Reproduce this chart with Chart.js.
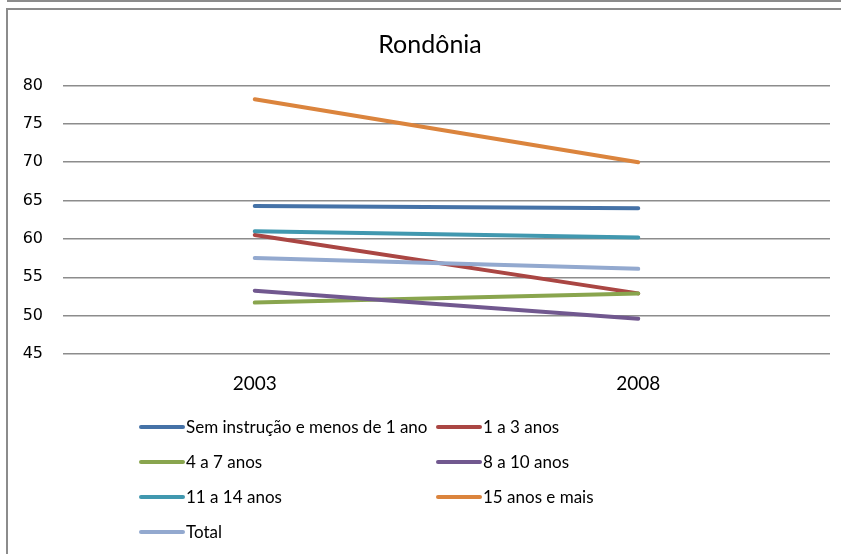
<!DOCTYPE html>
<html>
<head>
<meta charset="utf-8">
<script src="https://cdn.jsdelivr.net/npm/chart.js@4"></script>
<style>
  html, body { margin: 0; padding: 0; background: #fff; }
  #wrap { width: 841px; height: 554px; position: relative; }
  canvas { display: block; }
</style>
</head>
<body>
<div id="wrap"><canvas id="c" width="841" height="554"></canvas></div>
<script>
const categories = ["2003", "2008"];
const seriesNames = [
  "Sem instrução e menos de 1 ano",
  "1 a 3 anos",
  "4 a 7 anos",
  "8 a 10 anos",
  "11 a 14 anos",
  "15 anos e mais",
  "Total"
];
const semInstrucao = [64.3, 64.0];
const anos1a3 = [60.5, 52.9];
const anos4a7 = [51.7, 52.9];
const anos8a10 = [53.25, 49.6];
const anos11a14 = [61.0, 60.2];
const anos15mais = [78.2, 70.0];
const total = [57.5, 56.1];
const yTicks = [45, 50, 55, 60, 65, 70, 75, 80];
const chartTitle = 'Rondônia';

const colors = ["#4572A7", "#AA4643", "#89A54E", "#71588F", "#4198AF", "#DB843D", "#93A9CF"];
const values = [semInstrucao, anos1a3, anos4a7, anos8a10, anos11a14, anos15mais, total];

const datasets = seriesNames.map((n, i) => ({
  label: n,
  data: values[i],
  borderColor: colors[i],
  backgroundColor: colors[i],
  borderWidth: 4,
  borderCapStyle: 'round',
  pointRadius: 0,
  pointHoverRadius: 0,
  tension: 0,
  fill: false
}));
datasets.forEach((d, i) => { d.order = -i; });

const framePlugin = {
  id: 'frame',
  beforeDraw(chart) {
    const ctx = chart.ctx;
    ctx.save();
    ctx.fillStyle = '#fff';
    ctx.fillRect(0, 0, chart.width, chart.height);
    ctx.strokeStyle = '#8c8c8c';
    ctx.lineWidth = 2;
    ctx.beginPath();
    ctx.moveTo(7, 1); ctx.lineTo(chart.width, 1);
    ctx.moveTo(7, chart.height); ctx.lineTo(7, 9); ctx.lineTo(chart.width, 9);
    ctx.stroke();
    // title
    ctx.fillStyle = '#000';
    ctx.font = '25px Lato, "Open Sans", sans-serif';
    ctx.textAlign = 'center';
    ctx.textBaseline = 'middle';
    ctx.fillText(chartTitle, 430, 45);
    ctx.restore();
  }
};

const legendPlugin = {
  id: 'gridLegend',
  afterDraw(chart) {
    const ctx = chart.ctx;
    const cols = [139, 436];
    const rows = [427, 462, 497, 532];
    ctx.save();
    ctx.font = '17px Lato, "Open Sans", sans-serif';
    ctx.textBaseline = 'middle';
    ctx.textAlign = 'left';
    chart.data.datasets.forEach((ds, i) => {
      const x = cols[i % 2], y = rows[Math.floor(i / 2)];
      ctx.strokeStyle = ds.borderColor;
      ctx.lineWidth = 4;
      ctx.lineCap = 'round';
      ctx.beginPath();
      ctx.moveTo(x + 2, y); ctx.lineTo(x + 44, y);
      ctx.stroke();
      ctx.fillStyle = '#000';
      ctx.fillText(ds.label, x + 47, y + 1);
    });
    ctx.restore();
  }
};

new Chart(document.getElementById('c'), {
  type: 'line',
  data: { labels: categories, datasets },
  plugins: [framePlugin, legendPlugin],
  options: {
    responsive: false,
    animation: false,
    events: [],
    layout: { padding: { top: 85.5, right: 11, bottom: 0, left: 0 } },
    plugins: {
      legend: { display: false },
      tooltip: { enabled: false },
      title: { display: false }
    },
    scales: {
      x: {
        offset: true,
        grid: { display: false, drawTicks: false },
        border: { display: false },
        ticks: {
          color: '#000',
          font: { family: 'Lato, "Open Sans", sans-serif', size: 19 },
          padding: 18
        },
        afterFit(s) { s.height = 200; }
      },
      y: {
        min: 45,
        max: 80,
        afterBuildTicks(s) { s.ticks = yTicks.map(v => ({ value: v })); },
        grid: { color: '#8c8c8c', lineWidth: 1.5, drawTicks: false },
        border: { display: false },
        ticks: {
          color: '#000',
          font: { family: '"DejaVu Sans", sans-serif', size: 16 },
          padding: 20
        },
        afterFit(s) { s.width = 63; }
      }
    }
  }
});
</script>
</body>
</html>
